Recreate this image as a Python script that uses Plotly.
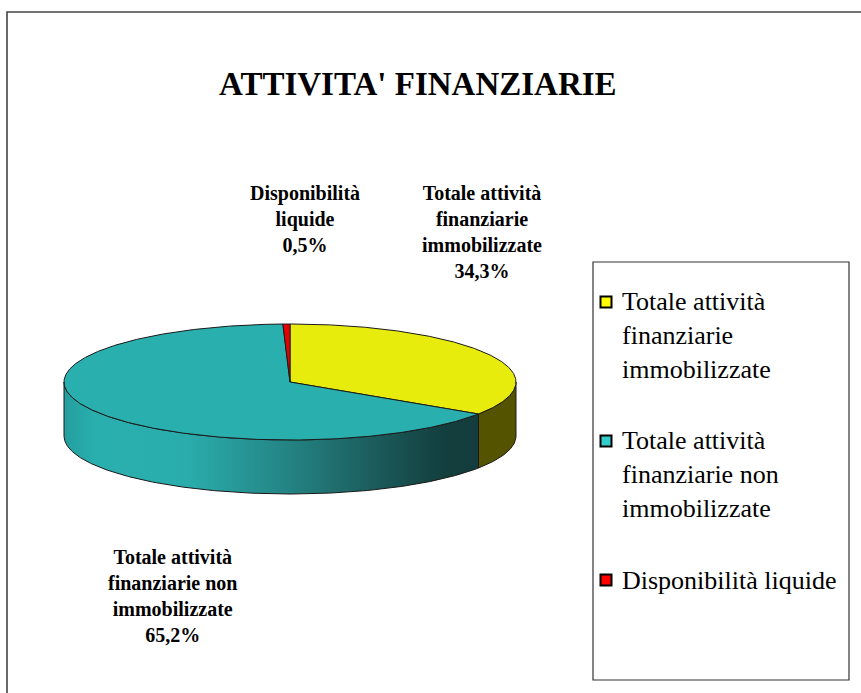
import math
import plotly.graph_objects as go

# ---- data ----
categories = ["Totale attività finanziarie immobilizzate",
              "Totale attività finanziarie non immobilizzate",
              "Disponibilità liquide"]
values = [34.3, 65.2, 0.5]
label_lines = [["Totale attività", "finanziarie", "immobilizzate"],
               ["Totale attività", "finanziarie non", "immobilizzate"],
               ["Disponibilità", "liquide"]]
legend_lines = [["Totale attività", "finanziarie", "immobilizzate"],
                ["Totale attività", "finanziarie non", "immobilizzate"],
                ["Disponibilità liquide"]]
title_text = "ATTIVITA' FINANZIARIE"

# ---- styles ----
top_colors = ["#E8EC0C", "#2AAFAF", "#E60000"]
side_colors = ["#545400", None, "#7A0000"]
legend_colors = ["#FFFF00", "#33CCCC", "#FF0000"]
teal_gradient = [[0.0, "rgb(36,158,158)"], [0.08, "rgb(42,175,175)"],
                 [0.3, "rgb(42,172,172)"], [0.55, "rgb(36,130,130)"],
                 [0.8, "rgb(25,82,82)"], [0.92, "rgb(20,62,62)"],
                 [1.0, "rgb(20,60,60)"]]
SERIF = "Liberation Serif"

W, H = 861, 693
cx, cy, rx, ry, depth = 290, 382, 226, 58, 54


def pt(theta_deg, dy=0.0):
    t = math.radians(theta_deg)
    return cx + rx * math.sin(t), cy - ry * math.cos(t) + dy


def arc(a, b, dy=0.0, step=0.5):
    n = max(2, int(abs(b - a) / step) + 1)
    return [pt(a + (b - a) * i / (n - 1), dy) for i in range(n)]


total = sum(values)
bounds = []
acc = 0.0
for v in values:
    a = acc / total * 360
    acc += v
    b = acc / total * 360
    bounds.append((a, b))

fig = go.Figure()

# sides (visible front part: 90..270 deg)
for i, (a, b) in enumerate(bounds):
    s, e = max(a, 90), min(b, 270)
    if e <= s:
        continue
    top = arc(s, e)
    bot = arc(s, e, dy=depth)[::-1]
    pts = top + bot + [top[0]]
    xs = [p[0] for p in pts]
    ys = [p[1] for p in pts]
    kw = dict(x=xs, y=ys, mode="lines", fill="toself",
              line=dict(color="#1a1a1a", width=1), hoverinfo="skip",
              showlegend=False)
    if side_colors[i] is None:
        kw["fillgradient"] = dict(type="horizontal", colorscale=teal_gradient,
                                  start=min(xs), stop=max(xs))
    else:
        kw["fillcolor"] = side_colors[i]
    fig.add_trace(go.Scatter(**kw))

# top faces
for i, (a, b) in enumerate(bounds):
    pts = [(cx, cy)] + arc(a, b) + [(cx, cy)]
    fig.add_trace(go.Scatter(
        x=[p[0] for p in pts], y=[p[1] for p in pts], mode="lines",
        fill="toself", fillcolor=top_colors[i],
        line=dict(color="#1a1a1a", width=1), hoverinfo="skip",
        showlegend=False, name=categories[i]))

# data labels
label_pos = [(482, 180), (172, 544), (305, 180)]
for i, v in enumerate(values):
    pct = f"{v / total * 100:.1f}%".replace(".", ",")
    txt = "<br>".join(label_lines[i] + [pct])
    fig.add_annotation(x=label_pos[i][0], y=label_pos[i][1], xref="x", yref="y",
                       text=txt, showarrow=False, xanchor="center", yanchor="top",
                       align="center",
                       font=dict(family=SERIF, size=20, color="black", weight="bold"))

# title
fig.add_annotation(x=418, y=84, xref="x", yref="y", text=title_text,
                   showarrow=False, xanchor="center", yanchor="middle",
                   font=dict(family=SERIF, size=33, color="black", weight="bold"))

# legend (manual)
legend_y = [302, 441, 580]
fig.add_trace(go.Scatter(
    x=[606] * 3, y=legend_y, mode="markers",
    marker=dict(symbol="square", size=11, color=legend_colors,
                line=dict(color="black", width=2)),
    hoverinfo="skip", showlegend=False))
line_h = 26 * 1.3
for i, lines in enumerate(legend_lines):
    yc = legend_y[i] + (len(lines) - 1) * line_h / 2
    fig.add_annotation(x=620, y=yc, xref="x", yref="y",
                       text="<br>".join(lines), showarrow=False,
                       xanchor="left", yanchor="middle", align="left",
                       font=dict(family=SERIF, size=26, color="black"))

shapes = [
    dict(type="rect", xref="x", yref="y", x0=593, x1=849, y0=262, y1=680,
         line=dict(color="#333333", width=1.2), fillcolor="rgba(0,0,0,0)"),
    dict(type="path", xref="x", yref="y",
         path=f"M 7 {H} L 7 12 L {W} 12",
         line=dict(color="#444444", width=1.6)),
]

fig.update_layout(
    width=W, height=H, margin=dict(l=0, r=0, t=0, b=0),
    paper_bgcolor="white", plot_bgcolor="white",
    xaxis=dict(range=[0, W], visible=False, fixedrange=True),
    yaxis=dict(range=[H, 0], visible=False, fixedrange=True),
    shapes=shapes, showlegend=False,
)

fig.write_html("out.html", config={"displayModeBar": False},
               post_script="document.body.style.margin='0';document.body.style.overflow='hidden';")
